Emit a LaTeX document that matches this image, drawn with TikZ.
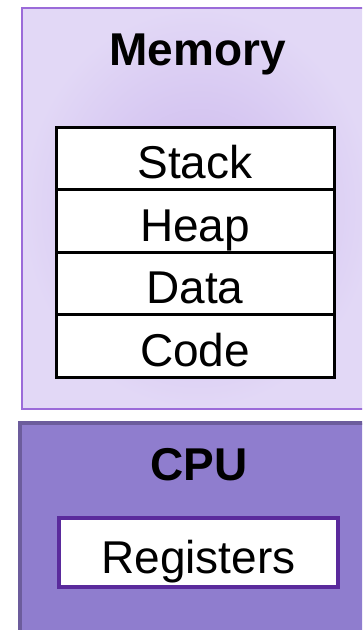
\documentclass[tikz,border=0pt]{standalone}
\usepackage{fontspec}
\setmainfont{Liberation Sans}
\usepackage{tikz}
\definecolor{memedge}{HTML}{9B6BD9}
\definecolor{meminner}{HTML}{CBB7ED}
\definecolor{memouter}{HTML}{E2D8F6}
\definecolor{cpufill}{HTML}{8F7DCE}
\definecolor{cpuedge}{HTML}{6C5C9C}
\definecolor{regedge}{HTML}{5A2A9C}
\tikzset{unit/.style={rectangle,inner sep=0pt,outer sep=0pt}}
\tikzset{memory/.style={unit,draw=memedge,line width=1.5pt,
                        inner color=meminner,outer color=memouter}}
\tikzset{processor/.style={unit,draw=cpuedge,line width=4pt,fill=cpufill}}
\tikzset{title/.style={font=\fontsize{46}{50}\selectfont\bfseries}}
\tikzset{segment/.style={unit,draw=black,line width=3pt,fill=white,
                         minimum width=278pt,minimum height=62.5pt,
                         font=\fontsize{46}{50}\selectfont,
                         text height=41pt,text depth=0pt}}
\tikzset{register/.style={segment,draw=regedge,line width=4pt,
                          minimum width=279pt,minimum height=69pt}}

\begin{document}
\begin{tikzpicture}[x=1pt,y=-1pt]
    \useasboundingbox (0,0) rectangle (362,630);
    \clip (0,0) rectangle (362,630);
    % Memory
    \node[memory,minimum width=352pt,minimum height=401pt] (mem) at (198,208.5) {};
    \node[title,anchor=base] (memlabel) at (197.5,65) {Memory};
    \foreach \h [count=\hi ] in {Stack,Heap,Data,Code}{%
          \node[segment] (seg\hi) at (195,95.75+62.5*\hi) {\h};
        }
    % CPU
    \node[processor,minimum width=356pt,minimum height=240pt] (cpu) at (198,543) {};
    \node[title,anchor=base] (cpulabel) at (199,480) {CPU};
    \node[register] (regs) at (198.5,552.5) {Registers};
\end{tikzpicture}
\end{document}
